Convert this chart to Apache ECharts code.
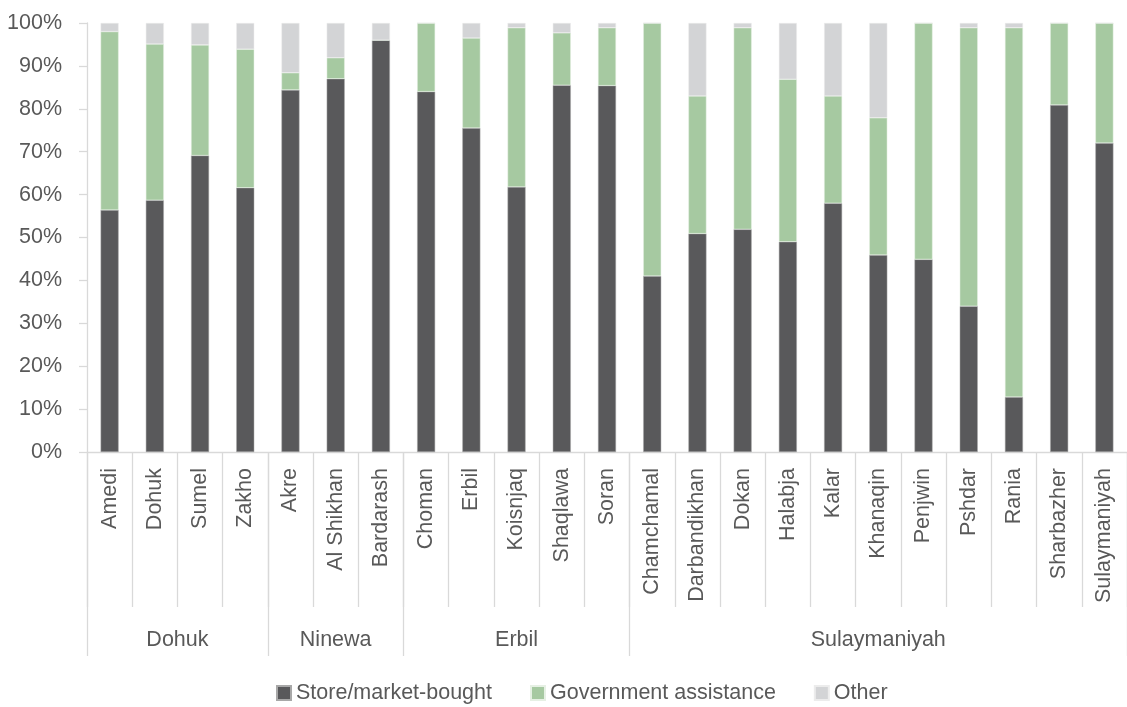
<!DOCTYPE html>
<html>
<head>
<meta charset="utf-8">
<script src="https://cdn.jsdelivr.net/npm/echarts@6/dist/echarts.min.js"></script>
<style>html,body{margin:0;padding:0;background:#fff;}#c{width:1127px;height:707px;}</style>
</head>
<body>
<div id="c"></div>
<script>
const categories = ['Amedi','Dohuk','Sumel','Zakho','Akre','Al Shikhan','Bardarash','Choman','Erbil','Koisnjaq','Shaqlawa','Soran','Chamchamal','Darbandikhan','Dokan','Halabja','Kalar','Khanaqin','Penjwin','Pshdar','Rania','Sharbazher','Sulaymaniyah'];
const groups = ['Dohuk','Ninewa','Erbil','Sulaymaniyah'];
const groupSizes = [4, 3, 5, 11];
const storeBought = [56.4, 58.7, 69.1, 61.6, 84.4, 87.0, 96.0, 84.0, 75.5, 61.8, 85.5, 85.4, 41.0, 50.9, 51.9, 49.0, 58.0, 45.9, 44.9, 34.0, 12.8, 80.9, 72.0];
const govAssistance = [41.6, 36.4, 25.8, 32.3, 4.0, 4.9, 0.0, 16.0, 21.0, 37.1, 12.2, 13.5, 59.0, 32.1, 47.0, 37.9, 25.0, 32.0, 55.1, 64.9, 86.1, 19.1, 28.0];
const other = [2.0, 4.9, 5.1, 6.1, 11.6, 8.1, 4.0, 0.0, 3.5, 1.1, 2.3, 1.1, 0.0, 17.0, 1.1, 13.1, 17.0, 22.1, 0.0, 1.1, 1.1, 0.0, 0.0];
const yTicks = [0, 10, 20, 30, 40, 50, 60, 70, 80, 90, 100];

const FONT = "'Liberation Sans', Arial, sans-serif";
const FS = 21.5;
const TXT = '#595959';
const AX = '#d9d9d9';

// group boundaries and centers on a 0..N scale
const bounds = [0];
groupSizes.forEach(s => bounds.push(bounds[bounds.length - 1] + s));
const centers = groups.map((g, i) => (bounds[i] + bounds[i + 1]) / 2);

const chart = echarts.init(document.getElementById('c'));
chart.setOption({
  animation: false,
  backgroundColor: '#fff',
  textStyle: { fontFamily: FONT },
  grid: { left: 87, top: 23, width: 1049, height: 429, containLabel: false },
  legend: {
    left: 271, top: 677,
    itemWidth: 14, itemHeight: 14, itemGap: 38,
    icon: 'rect',
    textStyle: { fontFamily: FONT, fontSize: FS, color: TXT },
    data: ['Store/market-bought', 'Government assistance', 'Other']
  },
  xAxis: [
    {
      type: 'category', data: categories, position: 'bottom',
      axisLine: { lineStyle: { color: AX, width: 1.3 } },
      axisTick: { show: true, length: 155, interval: 0, lineStyle: { color: AX, width: 1.3 } },
      axisLabel: { interval: 0, rotate: 90, margin: 16, color: TXT, fontSize: FS, fontFamily: FONT }
    },
    {
      type: 'value', position: 'bottom', min: 0, max: bounds[bounds.length - 1],
      axisLine: { show: false },
      splitLine: { show: false },
      axisTick: { show: true, customValues: bounds, length: 204, lineStyle: { color: AX, width: 1.3 } },
      axisLabel: {
        customValues: centers, margin: 177, color: TXT, fontSize: FS, fontFamily: FONT,
        formatter: v => { const i = centers.indexOf(v); return i >= 0 ? groups[i] : ''; }
      }
    }
  ],
  yAxis: {
    type: 'value', min: yTicks[0], max: yTicks[yTicks.length - 1], interval: 10,
    axisLine: { show: true, lineStyle: { color: AX, width: 1.3 } },
    axisTick: { show: true, length: 8, lineStyle: { color: AX, width: 1.3 } },
    splitLine: { show: false },
    axisLabel: { formatter: '{value}%', margin: 25, color: TXT, fontSize: FS, fontFamily: FONT }
  },
  series: [
    { name: 'Store/market-bought', type: 'bar', stack: 's', barWidth: 18, data: storeBought,
      itemStyle: { color: '#59595b', borderColor: '#a8a8a8', borderWidth: 0.5 } },
    { name: 'Government assistance', type: 'bar', stack: 's', barWidth: 18, data: govAssistance,
      itemStyle: { color: '#a6c9a1', borderColor: '#e6f0e4', borderWidth: 0.5 } },
    { name: 'Other', type: 'bar', stack: 's', barWidth: 18, data: other,
      itemStyle: { color: '#d3d4d6', borderColor: '#ececec', borderWidth: 0.5 } }
  ]
});
</script>
</body>
</html>
